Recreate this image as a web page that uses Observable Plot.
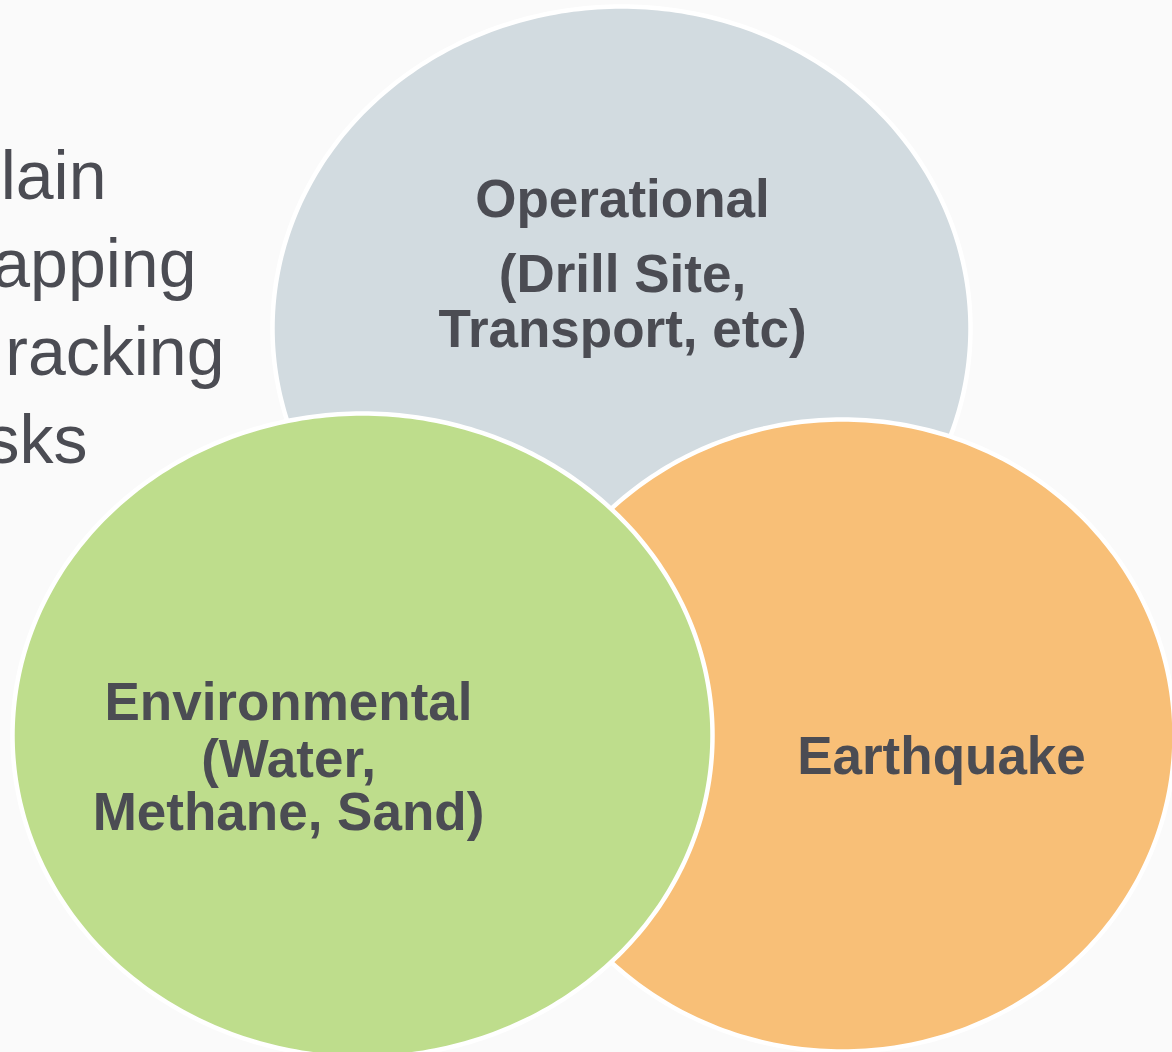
<!DOCTYPE html>
<html>
<head>
<meta charset="utf-8">
<script src="https://cdn.jsdelivr.net/npm/d3@7"></script>
<script src="https://cdn.jsdelivr.net/npm/@observablehq/plot@0.6"></script>
<style>
  html, body { margin: 0; padding: 0; background: #fafafa; }
  #chart svg { display: block; }
</style>
</head>
<body>
<div id="chart"></div>
<script>
// Circles (drawn in order: back to front)
const circleNames = ["Operational", "Earthquake", "Environmental"];
const circleCx = [621, 842, 362];
const circleCy = [328, 735, 735];
const circleRx = [349, 332, 350];
const circleRy = [322, 316, 322];
const circleColors = ["#d2dbe0", "#f8bf77", "#bedd8c"];

// Labels inside circles
const labelLines = ["Operational", "(Drill Site,", "Transport, etc)", "Earthquake", "Environmental", "(Water,", "Methane, Sand)"];
const labelX = [622, 622, 622, 941, 288, 288, 288];
const labelBaseline = [216, 291, 346, 773, 719, 776, 829];

// Partially visible side text (cut off at left edge in the original)
const sideLines = ["lain", "apping", "racking", "sks"];
const sideRight = [106, 196, 224, 87];
const sideBaseline = [198, 286, 374, 462];

const W = 1172, H = 1052;

const ellipsePts = [];
circleNames.forEach((name, i) => {
  const n = 360;
  for (let k = 0; k < n; k++) {
    const t = (k / n) * 2 * Math.PI;
    ellipsePts.push({name, i, x: circleCx[i] + circleRx[i] * Math.cos(t), y: circleCy[i] + circleRy[i] * Math.sin(t)});
  }
});

const labels = labelLines.map((t, i) => ({t, x: labelX[i], y: labelBaseline[i]}));
const side = sideLines.map((t, i) => ({t, x: sideRight[i], y: sideBaseline[i]}));

const chart = Plot.plot({
  width: W,
  height: H,
  margin: 0,
  style: {background: "#fafafa", overflow: "hidden"},
  x: {domain: [0, W], range: [0, W], axis: null},
  y: {domain: [0, H], range: [0, H], axis: null},
  marks: [
    Plot.text(side, {x: "x", y: "y", text: "t", textAnchor: "end", lineAnchor: "bottom",
      fontSize: 68, fill: "#4b4c53", fontFamily: "'Liberation Sans', Arial, sans-serif"}),
    ...circleNames.map((name, i) =>
      Plot.line(ellipsePts.filter(d => d.i === i), {x: "x", y: "y", curve: "linear-closed",
        fill: circleColors[i], stroke: "#ffffff", strokeWidth: 4.5})
    ),
    Plot.text(labels, {x: "x", y: "y", text: "t", textAnchor: "middle", lineAnchor: "bottom",
      fontSize: 53, fontWeight: "bold", fill: "#4b4c53", fontFamily: "'Liberation Sans', Arial, sans-serif"})
  ]
});
document.getElementById("chart").append(chart);
</script>
</body>
</html>
